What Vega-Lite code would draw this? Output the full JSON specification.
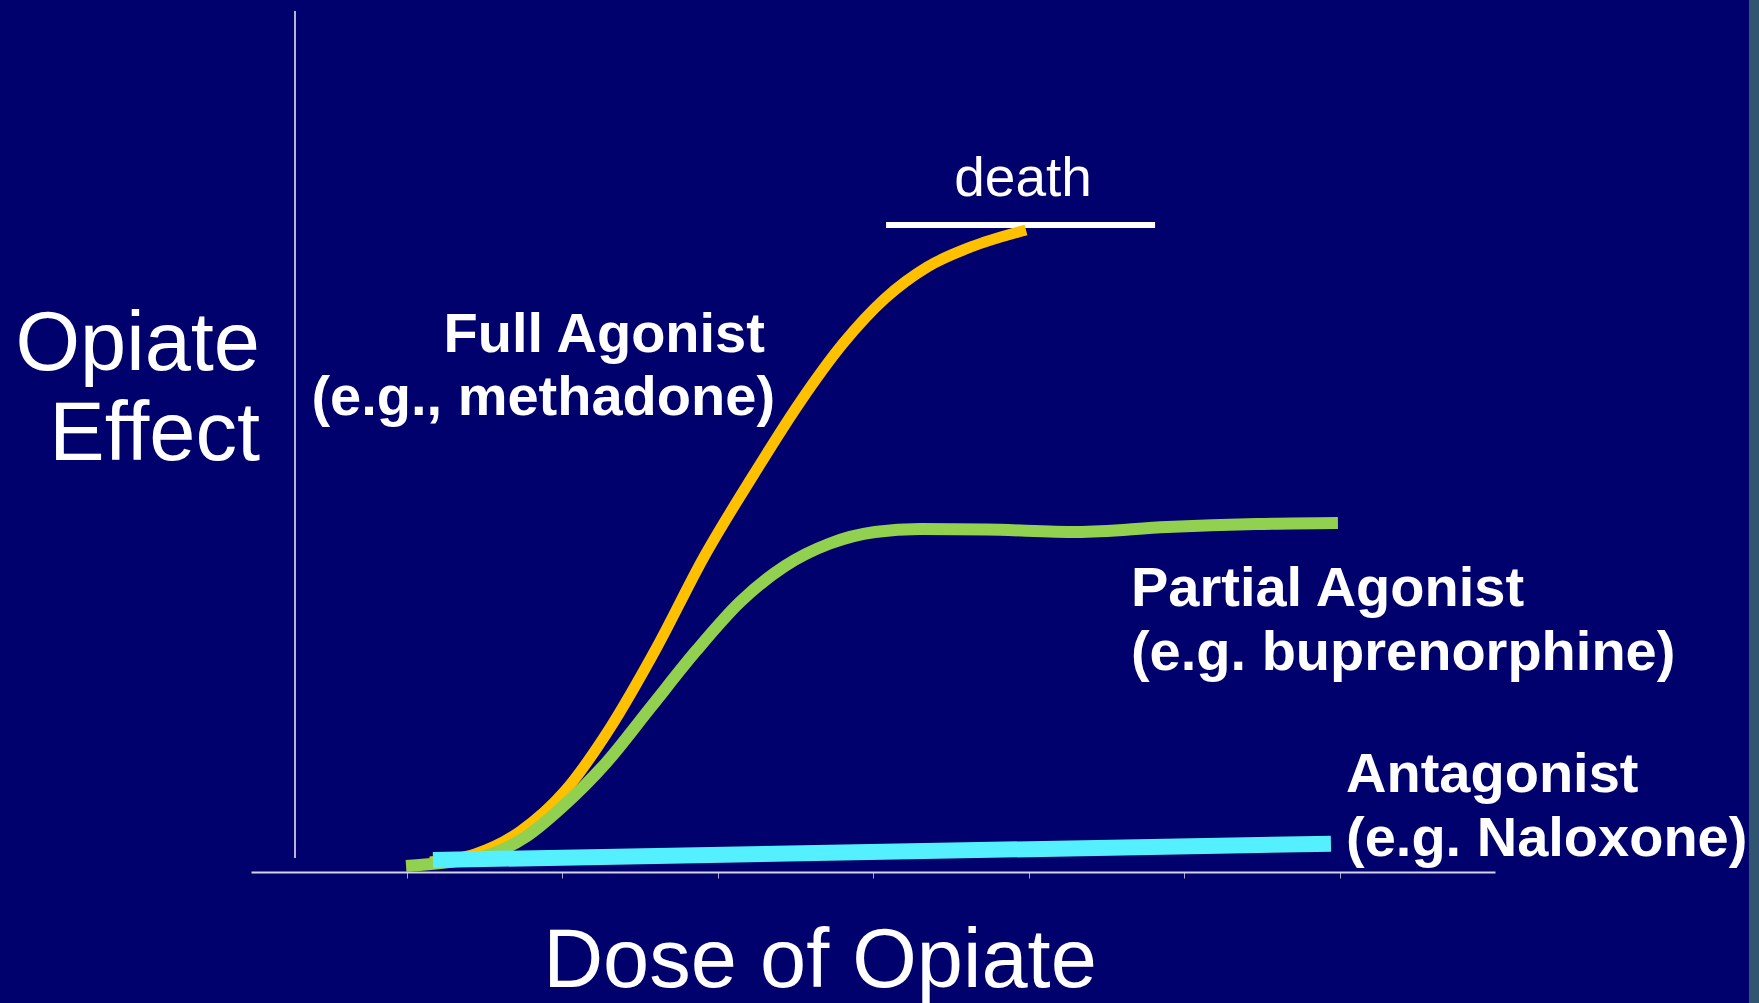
{
  "$schema": "https://vega.github.io/schema/vega-lite/v6.json",
  "width": 1244,
  "height": 862,
  "autosize": {"type": "none"},
  "padding": {"left": 251, "top": 10, "right": 264, "bottom": 131},
  "background": "#01016d",
  "config": {"view": {"stroke": null}, "font": "Liberation Sans"},
  "datasets": {
    "curves": [
      {"series": "Full Agonist", "x": 1.151, "y": 1.16},
      {"series": "Full Agonist", "x": 1.441, "y": 2.09},
      {"series": "Full Agonist", "x": 1.73, "y": 4.7},
      {"series": "Full Agonist", "x": 2.019, "y": 9.4},
      {"series": "Full Agonist", "x": 2.309, "y": 16.71},
      {"series": "Full Agonist", "x": 2.611, "y": 26.1},
      {"series": "Full Agonist", "x": 2.913, "y": 36.54},
      {"series": "Full Agonist", "x": 3.235, "y": 46.17},
      {"series": "Full Agonist", "x": 3.531, "y": 54.52},
      {"series": "Full Agonist", "x": 3.807, "y": 61.31},
      {"series": "Full Agonist", "x": 4.077, "y": 66.53},
      {"series": "Full Agonist", "x": 4.349, "y": 70.19},
      {"series": "Full Agonist", "x": 4.63, "y": 72.51},
      {"series": "Full Agonist", "x": 4.984, "y": 74.48},
      {"series": "Partial Agonist", "x": 0.997, "y": 0.7},
      {"series": "Partial Agonist", "x": 1.273, "y": 1.16},
      {"series": "Partial Agonist", "x": 1.563, "y": 2.2},
      {"series": "Partial Agonist", "x": 1.775, "y": 4.18},
      {"series": "Partial Agonist", "x": 1.994, "y": 7.42},
      {"series": "Partial Agonist", "x": 2.283, "y": 12.65},
      {"series": "Partial Agonist", "x": 2.572, "y": 19.14},
      {"series": "Partial Agonist", "x": 2.862, "y": 25.64},
      {"series": "Partial Agonist", "x": 3.145, "y": 31.32},
      {"series": "Partial Agonist", "x": 3.434, "y": 35.5},
      {"series": "Partial Agonist", "x": 3.723, "y": 38.11},
      {"series": "Partial Agonist", "x": 4.013, "y": 39.44},
      {"series": "Partial Agonist", "x": 4.302, "y": 39.79},
      {"series": "Partial Agonist", "x": 4.733, "y": 39.73},
      {"series": "Partial Agonist", "x": 5.312, "y": 39.44},
      {"series": "Partial Agonist", "x": 5.891, "y": 40.02},
      {"series": "Partial Agonist", "x": 6.463, "y": 40.37},
      {"series": "Partial Agonist", "x": 6.99, "y": 40.49},
      {"series": "Antagonist", "x": 1.17, "y": 1.39},
      {"series": "Antagonist", "x": 6.945, "y": 3.29}
    ],
    "rules": [
      {"what": "effect axis", "x": 0.283, "x2": 0.283, "y": 1.62, "y2": 99.88},
      {"what": "death", "x": 4.084, "x2": 5.814, "y": 75.06, "y2": 75.06}
    ],
    "edge": [
      {"x": 9.633, "x2": 9.9, "y": -16, "y2": 102}
    ],
    "labels": [
      {"style": "ytitle", "x": 0.058, "y": 58.24, "text": "Opiate"},
      {"style": "ytitle", "x": 0.058, "y": 47.8, "text": "Effect"},
      {"style": "xtitle", "x": 3.659, "y": -13.34, "text": "Dose of Opiate"},
      {"style": "death", "x": 4.965, "y": 78.42, "text": "death"},
      {"style": "left", "x": 3.305, "y": 60.32, "text": "Full Agonist"},
      {"style": "left", "x": 3.37, "y": 53.02, "text": "(e.g., methadone)"},
      {"style": "right", "x": 5.659, "y": 30.86, "text": "Partial Agonist"},
      {"style": "right", "x": 5.659, "y": 23.43, "text": "(e.g. buprenorphine)"},
      {"style": "right", "x": 7.042, "y": 9.28, "text": "Antagonist"},
      {"style": "right", "x": 7.042, "y": 1.86, "text": "(e.g. Naloxone)"}
    ]
  },
  "encoding": {
    "x": {
      "field": "x",
      "type": "quantitative",
      "scale": {"domain": [0, 8], "nice": false, "zero": false},
      "axis": {
        "values": [1, 2, 3, 4, 5, 6, 7],
        "labels": false,
        "grid": false,
        "title": null,
        "domainColor": "#d4d4e6",
        "domainWidth": 2,
        "tickColor": "#a8a8cc",
        "tickSize": 6,
        "tickWidth": 1
      }
    },
    "y": {
      "field": "y",
      "type": "quantitative",
      "scale": {"domain": [0, 100], "nice": false, "zero": false},
      "axis": null
    }
  },
  "layer": [
    {
      "data": {"name": "edge"},
      "mark": {"type": "rect", "color": "#2f5570", "clip": false},
      "encoding": {"x2": {"field": "x2"}, "y2": {"field": "y2"}}
    },
    {
      "data": {"name": "rules"},
      "transform": [{"filter": "datum.what === 'effect axis'"}],
      "mark": {"type": "rule", "color": "#e2e2f0", "strokeWidth": 1.6},
      "encoding": {"x2": {"field": "x2"}, "y2": {"field": "y2"}}
    },
    {
      "data": {"name": "rules"},
      "transform": [{"filter": "datum.what === 'death'"}],
      "mark": {"type": "rule", "color": "#ffffff", "strokeWidth": 6},
      "encoding": {"x2": {"field": "x2"}, "y2": {"field": "y2"}}
    },
    {
      "data": {"name": "curves"},
      "transform": [{"filter": "datum.series === 'Full Agonist'"}],
      "mark": {"type": "line", "color": "#ffc000", "strokeWidth": 11, "interpolate": "monotone", "strokeCap": "butt"},
      "encoding": {}
    },
    {
      "data": {"name": "curves"},
      "transform": [{"filter": "datum.series === 'Partial Agonist'"}],
      "mark": {"type": "line", "color": "#92d050", "strokeWidth": 12, "interpolate": "monotone", "strokeCap": "butt"},
      "encoding": {}
    },
    {
      "data": {"name": "curves"},
      "transform": [{"filter": "datum.series === 'Antagonist'"}],
      "mark": {"type": "line", "color": "#55f0ff", "strokeWidth": 16, "strokeCap": "butt"},
      "encoding": {}
    },
    {
      "data": {"name": "labels"},
      "transform": [{"filter": "datum.style === 'ytitle'"}],
      "mark": {"type": "text", "align": "right", "baseline": "alphabetic", "fontSize": 83, "color": "#ffffff", "font": "Liberation Sans"},
      "encoding": {"text": {"field": "text"}}
    },
    {
      "data": {"name": "labels"},
      "transform": [{"filter": "datum.style === 'xtitle'"}],
      "mark": {"type": "text", "align": "center", "baseline": "alphabetic", "fontSize": 83, "color": "#ffffff", "font": "Liberation Sans"},
      "encoding": {"text": {"field": "text"}}
    },
    {
      "data": {"name": "labels"},
      "transform": [{"filter": "datum.style === 'death'"}],
      "mark": {"type": "text", "align": "center", "baseline": "alphabetic", "fontSize": 55, "color": "#ffffff", "font": "Liberation Sans"},
      "encoding": {"text": {"field": "text"}}
    },
    {
      "data": {"name": "labels"},
      "transform": [{"filter": "datum.style === 'left'"}],
      "mark": {"type": "text", "align": "right", "baseline": "alphabetic", "fontSize": 56, "fontWeight": "bold", "color": "#ffffff", "font": "Liberation Sans"},
      "encoding": {"text": {"field": "text"}}
    },
    {
      "data": {"name": "labels"},
      "transform": [{"filter": "datum.style === 'right'"}],
      "mark": {"type": "text", "align": "left", "baseline": "alphabetic", "fontSize": 56, "fontWeight": "bold", "color": "#ffffff", "font": "Liberation Sans"},
      "encoding": {"text": {"field": "text"}}
    }
  ]
}
